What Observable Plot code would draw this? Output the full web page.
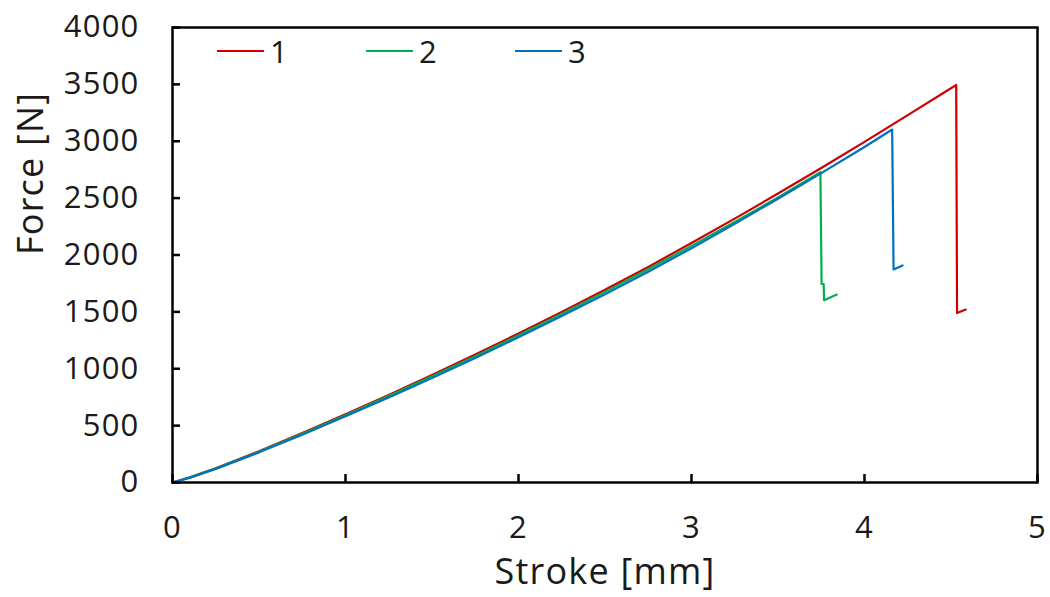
<!DOCTYPE html>
<html>
<head>
<meta charset="utf-8">
<script src="https://cdn.jsdelivr.net/npm/d3@7"></script>
<script src="https://cdn.jsdelivr.net/npm/@observablehq/plot@0.6"></script>
<style>
  html, body { margin: 0; padding: 0; background: #fff; }
  #wrap { position: relative; width: 1050px; height: 597px; }
  #wrap svg text { letter-spacing: 1.2px; }
  #legend { position: absolute; left: 0; top: 0; font-family: "Open Sans", sans-serif; font-size: 31px; color: #1a1a1a; letter-spacing: 1.2px; }
  .item { position: absolute; display: flex; align-items: center; }
  .swatch { width: 47px; height: 0; border-top: 2.5px solid; margin-right: 6px; }
</style>
</head>
<body>
<div id="wrap"><div id="legend"></div></div>
<script>
// ---- data ----
const seriesNames = ["1", "2", "3"];
const seriesColors = ["#CC0000", "#00B050", "#0070C0"];

const stroke1 = [0, 0.1, 0.25, 0.5, 0.75, 1.0, 1.25, 1.5, 1.75, 2.0, 2.25, 2.5, 2.75, 3.0, 3.25, 3.5, 3.75, 4.0, 4.25, 4.53, 4.535, 4.585];
const force1  = [0, 45, 125, 275, 435, 600, 770, 945, 1125, 1310, 1500, 1695, 1895, 2105, 2320, 2540, 2765, 2995, 3230, 3495, 1490, 1520];

const stroke2 = [0, 0.1, 0.25, 0.5, 0.75, 1.0, 1.25, 1.5, 1.75, 2.0, 2.25, 2.5, 2.75, 3.0, 3.25, 3.5, 3.745, 3.752, 3.764, 3.766, 3.84];
const force2  = [0, 43, 122, 270, 428, 592, 760, 933, 1111, 1294, 1482, 1676, 1874, 2080, 2290, 2505, 2728, 1745, 1745, 1602, 1652];

const stroke3 = [0, 0.1, 0.25, 0.5, 0.75, 1.0, 1.25, 1.5, 1.75, 2.0, 2.25, 2.5, 2.75, 3.0, 3.25, 3.5, 3.75, 4.0, 4.16, 4.168, 4.22];
const force3  = [0, 42, 120, 265, 420, 582, 748, 919, 1095, 1277, 1463, 1655, 1852, 2060, 2275, 2495, 2720, 2950, 3103, 1873, 1908];

const xTicks = [0, 1, 2, 3, 4, 5];
const yTicks = [0, 500, 1000, 1500, 2000, 2500, 3000, 3500, 4000];
const xTitle = "Stroke [mm]";
const yTitle = "Force [N]";

// ---- build table ----
const strokes = [stroke1, stroke2, stroke3];
const forces = [force1, force2, force3];
const rows = [];
seriesNames.forEach((name, i) => {
  strokes[i].forEach((s, j) => rows.push({series: name, stroke: s, force: forces[i][j]}));
});

const chart = Plot.plot({
  width: 1050,
  height: 597,
  marginLeft: 172,
  marginRight: 13,
  marginTop: 27,
  marginBottom: 115,
  style: {fontFamily: "'Open Sans', sans-serif", fontSize: "31px", color: "#1a1a1a", background: "#fff", overflow: "visible"},
  x: {domain: [0, 5]},
  y: {domain: [0, 4000]},
  color: {domain: seriesNames, range: seriesColors},
  marks: [
    Plot.line(rows, {x: "stroke", y: "force", z: "series", stroke: "series", strokeWidth: 2.2}),
    Plot.frame({stroke: "#000", strokeWidth: 2.5}),
    // inward tick marks
    Plot.axisX({ticks: xTicks, tickSize: -8, strokeWidth: 2.5, stroke: "#000", fill: "none", label: null}),
    Plot.axisY({ticks: yTicks, tickSize: -8, strokeWidth: 2.5, stroke: "#000", fill: "none", label: null}),
    // tick labels
    Plot.axisX({ticks: xTicks, tickSize: 0, tickPadding: 33, fontSize: 31, fill: "#1a1a1a", label: null, tickFormat: d => String(d)}),
    Plot.axisY({ticks: yTicks, tickSize: 0, tickPadding: 33, fontSize: 31, fill: "#1a1a1a", label: null, tickFormat: d => String(d)}),
    // axis titles
    Plot.text([xTitle], {text: d => d, frameAnchor: "bottom", dy: 101, fontSize: 36, fill: "#1a1a1a"}),
    Plot.text([yTitle], {text: d => d, frameAnchor: "left", rotate: -90, dx: -141, fontSize: 36, fill: "#1a1a1a"})
  ]
});
document.getElementById("wrap").prepend(chart);

// legend (inside plot, top-left)
const legendLeft = [217, 366, 515];
const legend = d3.select("#legend");
seriesNames.forEach((name, i) => {
  const item = legend.append("div").attr("class", "item")
    .style("left", legendLeft[i] + "px").style("top", "30px");
  item.append("div").attr("class", "swatch").style("border-top-color", seriesColors[i]);
  item.append("span").text(name);
});
</script>
</body>
</html>
